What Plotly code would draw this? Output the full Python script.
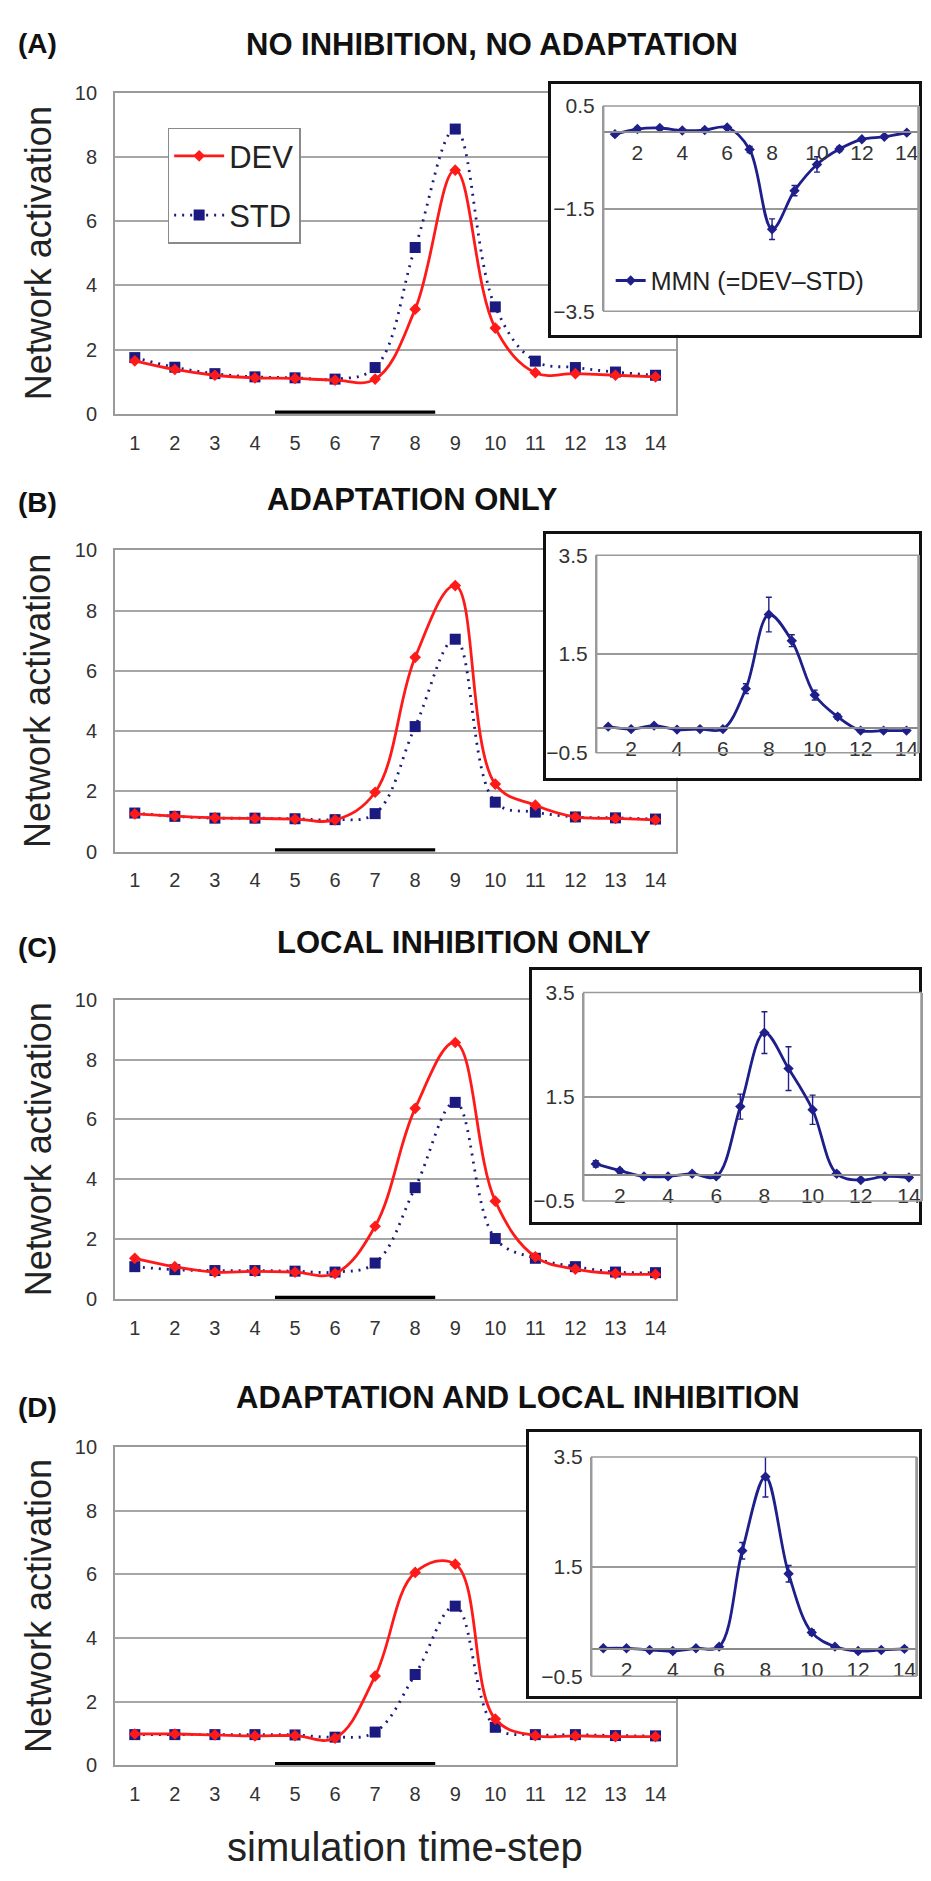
import plotly.graph_objects as go

# ---------------- data ----------------
STEPS = list(range(1, 15))
PANEL_LETTERS = ["(A)", "(B)", "(C)", "(D)"]
PANEL_TITLES = ["NO INHIBITION, NO ADAPTATION", "ADAPTATION ONLY",
                "LOCAL INHIBITION ONLY", "ADAPTATION AND LOCAL INHIBITION"]

A_DEV = [1.65, 1.38, 1.20, 1.12, 1.10, 1.05, 1.08, 3.26, 7.59, 2.67, 1.28, 1.25, 1.20, 1.15]
A_STD = [1.75, 1.45, 1.25, 1.15, 1.12, 1.08, 1.44, 5.18, 8.87, 3.33, 1.64, 1.44, 1.30, 1.20]
A_MMN = [-0.05, 0.05, 0.07, 0.02, 0.03, 0.08, -0.35, -1.90, -1.15, -0.64, -0.34, -0.15, -0.10, -0.02]
A_ERR = [0.03, 0.03, 0.03, 0.03, 0.03, 0.03, 0.06, 0.20, 0.10, 0.15, 0.05, 0.03, 0.03, 0.03]

B_DEV = [1.25, 1.18, 1.12, 1.10, 1.08, 1.05, 1.97, 6.45, 8.83, 2.24, 1.54, 1.15, 1.10, 1.05]
B_STD = [1.28, 1.17, 1.11, 1.11, 1.09, 1.06, 1.26, 4.15, 7.05, 1.64, 1.31, 1.15, 1.12, 1.08]
B_MMN = [0.03, -0.02, 0.05, -0.03, -0.02, -0.02, 0.80, 2.30, 1.77, 0.67, 0.23, -0.05, -0.05, -0.05]
B_ERR = [0.03, 0.03, 0.03, 0.03, 0.03, 0.03, 0.10, 0.35, 0.12, 0.10, 0.05, 0.03, 0.03, 0.03]

C_DEV = [1.36, 1.08, 0.90, 0.92, 0.90, 0.85, 2.43, 6.37, 8.57, 3.27, 1.41, 1.00, 0.85, 0.82]
C_STD = [1.08, 0.98, 0.95, 0.95, 0.93, 0.90, 1.20, 3.72, 6.57, 2.02, 1.36, 1.08, 0.90, 0.88]
C_MMN = [0.21, 0.08, -0.03, -0.03, 0.02, -0.03, 1.31, 2.73, 2.04, 1.25, 0.02, -0.10, -0.03, -0.05]
C_ERR = [0.06, 0.04, 0.03, 0.03, 0.03, 0.03, 0.24, 0.40, 0.42, 0.28, 0.04, 0.03, 0.03, 0.03]

D_DEV = [0.98, 0.98, 0.95, 0.92, 0.93, 0.85, 2.80, 6.06, 6.32, 1.45, 0.93, 0.92, 0.90, 0.90]
D_STD = [0.96, 0.96, 0.96, 0.96, 0.95, 0.88, 1.04, 2.85, 5.00, 1.19, 0.96, 0.96, 0.93, 0.92]
D_MMN = [0.01, 0.01, -0.02, -0.04, 0.01, 0.04, 1.79, 3.14, 1.37, 0.30, 0.04, -0.04, -0.02, 0.00]
D_ERR = [0.03, 0.03, 0.03, 0.03, 0.03, 0.03, 0.15, 0.37, 0.15, 0.05, 0.03, 0.03, 0.03, 0.03]

STIMULUS = [4.5, 8.5]          # time-steps covered by the black stimulus bar
MAIN_YTICKS = [0, 2, 4, 6, 8, 10]
INSET_XTICKS = [2, 4, 6, 8, 10, 12, 14]
INSET_RANGES = [[-3.5, 0.5], [-0.5, 3.5], [-0.5, 3.5], [-0.5, 3.5]]
INSET_YTICKS = [[-3.5, -1.5, 0.5], [-0.5, 1.5, 3.5], [-0.5, 1.5, 3.5], [-0.5, 1.5, 3.5]]

DEVS = [A_DEV, B_DEV, C_DEV, D_DEV]
STDS = [A_STD, B_STD, C_STD, D_STD]
MMNS = [A_MMN, B_MMN, C_MMN, D_MMN]
ERRS = [A_ERR, B_ERR, C_ERR, D_ERR]

# ---------------- layout geometry (pixels of the 931x1881 page) ----------------
PAGE_MARGIN = 8                       # default body margin of the html page
W, H = 931 - 2 * PAGE_MARGIN, 1860
def fx(px): return (px - PAGE_MARGIN) / W
def fy(py): return 1 - (py - PAGE_MARGIN) / H

MAIN_X = (115, 677)
MAIN_Y = [(81.7, 406.7), (545, 850), (1000, 1303), (1453, 1775)]
BOX = [((551.7, 929), (73.3, 326.7)), ((547, 929), (528, 775)),
       ((533, 929), (970, 1225)), ((530, 929), (1438, 1705))]
INS = [((605, 920), (95, 303)), ((598, 920), (550, 750)),
       ((585, 923), (992.7, 1203.7)), ((593, 918), (1463, 1685))]
TITLE_POS = [(245, 33), (266, 493), (276, 942), (234, 1403)]
LETTER_POS = [(38, 32), (38, 497), (38, 947), (38, 1413)]

RED = "#ff1a1a"
NAVY = "#1a1a80"
MMNC = "#1f1f8c"
FONT = "Liberation Sans, Arial, sans-serif"

fig = go.Figure()
layout = {}
shapes = []

def ax(n, kind):
    return kind + ("" if n == 1 else str(n))

# main panels
for i in range(4):
    n = i + 1
    xa, ya = ax(n, "x"), ax(n, "y")
    fig.add_trace(go.Scatter(x=STIMULUS, y=[0, 0], mode="lines",
                             line=dict(color="black", width=6.5),
                             xaxis=xa, yaxis=ya, showlegend=False,
                             cliponaxis=False, hoverinfo="skip"))
    fig.add_trace(go.Scatter(x=STEPS, y=STDS[i], mode="lines+markers", name="STD",
                             line=dict(color=NAVY, width=2.8, dash="2px,6px",
                                       shape="spline", smoothing=1.1),
                             marker=dict(symbol="square", size=11, color=NAVY),
                             xaxis=xa, yaxis=ya, showlegend=(i == 0),
                             legendgroup="std", legendrank=2, cliponaxis=False))
    fig.add_trace(go.Scatter(x=STEPS, y=DEVS[i], mode="lines+markers", name="DEV",
                             line=dict(color=RED, width=2.8, shape="spline", smoothing=1.1),
                             marker=dict(symbol="diamond", size=9, color=RED),
                             xaxis=xa, yaxis=ya, showlegend=(i == 0),
                             legendgroup="dev", legendrank=1, cliponaxis=False))
    top, bot = MAIN_Y[i]
    layout[ax(n, "xaxis")] = dict(domain=[fx(MAIN_X[0]), fx(MAIN_X[1])], range=[0.5, 14.5],
                                  tickvals=STEPS, showgrid=False, zeroline=False,
                                  showline=True, mirror=True, linecolor="#9a9a9a", linewidth=1.5,
                                  ticks="", ticklabelstandoff=10,
                                  tickfont=dict(size=20, color="#333"), anchor=ya)
    layout[ax(n, "yaxis")] = dict(domain=[fy(bot), fy(top)], range=[0, 10],
                                  tickvals=MAIN_YTICKS, showgrid=True, gridcolor="#a6a6a6",
                                  gridwidth=1.5, zeroline=False, showline=True, mirror=True,
                                  linecolor="#9a9a9a", linewidth=1.5, ticks="",
                                  ticklabelstandoff=12,
                                  tickfont=dict(size=20, color="#333"), anchor=xa)

# inset frames
for i in range(4):
    n = i + 5
    xa, ya = ax(n, "x"), ax(n, "y")
    fig.add_trace(go.Scatter(x=[], y=[], xaxis=xa, yaxis=ya, showlegend=False, hoverinfo="skip"))
    (bx0, bx1), (by0, by1) = BOX[i]
    frame = dict(range=[0, 1], showgrid=False, zeroline=False, showticklabels=False,
                 ticks="", showline=True, mirror=True, linecolor="#111", linewidth=2.5,
                 fixedrange=True)
    layout[ax(n, "xaxis")] = dict(domain=[fx(bx0), min(fx(bx1), 0.998)], anchor=ya, **frame)
    layout[ax(n, "yaxis")] = dict(domain=[fy(by1), fy(by0)], anchor=xa, **frame)

# inset plots
for i in range(4):
    n = i + 9
    xa, ya = ax(n, "x"), ax(n, "y")
    fig.add_trace(go.Scatter(x=STEPS, y=MMNS[i], mode="lines+markers",
                             name="MMN (=DEV\u2013STD)",
                             line=dict(color=MMNC, width=2.8, shape="spline"),
                             marker=dict(symbol="diamond", size=8, color=MMNC),
                             error_y=dict(type="data", array=ERRS[i], color=MMNC,
                                          thickness=1.4, width=3),
                             xaxis=xa, yaxis=ya, showlegend=(i == 0), legend="legend2",
                             cliponaxis=False))
    (ix0, ix1), (iy0, iy1) = INS[i]
    r = INSET_RANGES[i]
    d0, d1 = fy(iy1), fy(iy0)
    zero_pos = d0 + (0 - r[0]) / (r[1] - r[0]) * (d1 - d0)
    layout[ax(n, "xaxis")] = dict(domain=[fx(ix0), fx(ix1)], range=[0.5, 14.5],
                                  tickvals=INSET_XTICKS, anchor="free", position=zero_pos,
                                  showgrid=False, zeroline=False, showline=True,
                                  linecolor="#8a8a8a", linewidth=1.5, ticks="",
                                  ticklabelstandoff=2,
                                  tickfont=dict(size=21, color="#333"))
    layout[ax(n, "yaxis")] = dict(domain=[d0, d1], range=r, tickvals=INSET_YTICKS[i],
                                  showgrid=True, gridcolor="#9a9a9a", gridwidth=1.5,
                                  zeroline=False, showline=True, mirror=True,
                                  linecolor="#9a9a9a", linewidth=1.5, ticks="",
                                  ticklabelstandoff=3,
                                  tickfont=dict(size=21, color="#333"), anchor=xa)
    # grey border of the inset plot area
    shapes.append(dict(type="rect", xref=xa + " domain", yref=ya + " domain",
                       x0=0, x1=1, y0=0, y1=1, line=dict(color="#9a9a9a", width=1.5),
                       fillcolor="rgba(0,0,0,0)", layer="above"))

annotations = []
for i in range(4):
    tx, ty = TITLE_POS[i]
    annotations.append(dict(text="<b>" + PANEL_TITLES[i] + "</b>", x=fx(tx), y=fy(ty),
                            xref="paper", yref="paper", xanchor="left", yanchor="middle",
                            showarrow=False, font=dict(size=31, color="#111", family=FONT)))
    lx, ly = LETTER_POS[i]
    annotations.append(dict(text="<b>" + PANEL_LETTERS[i] + "</b>", x=fx(lx), y=fy(ly),
                            xref="paper", yref="paper", xanchor="center", yanchor="middle",
                            showarrow=False, font=dict(size=28, color="#111", family=FONT)))
    top, bot = MAIN_Y[i]
    annotations.append(dict(text="Network activation", x=fx(38), y=fy((top + bot) / 2),
                            xref="paper", yref="paper", xanchor="center", yanchor="middle",
                            textangle=-90, showarrow=False,
                            font=dict(size=36, color="#222", family=FONT)))
annotations.append(dict(text="simulation time-step", x=fx(406), y=fy(1858),
                        xref="paper", yref="paper", xanchor="center", yanchor="middle",
                        showarrow=False, font=dict(size=40, color="#222", family=FONT)))

fig.update_layout(
    width=W, height=H, margin=dict(l=0, r=0, t=0, b=0),
    paper_bgcolor="white", plot_bgcolor="white",
    font=dict(family=FONT, color="#222"),
    annotations=annotations, shapes=shapes,
    legend=dict(x=fx(168), y=fy(117), xanchor="left", yanchor="top",
                bgcolor="white", bordercolor="#8a8a8a", borderwidth=1.5,
                font=dict(size=31, color="#222"), tracegroupgap=16,
                itemwidth=50),
    legend2=dict(x=fx(612), y=fy(272), xanchor="left", yanchor="middle",
                 bgcolor="rgba(0,0,0,0)", borderwidth=0,
                 font=dict(size=25, color="#222")),
    **layout,
)

fig.write_html("out.html")
